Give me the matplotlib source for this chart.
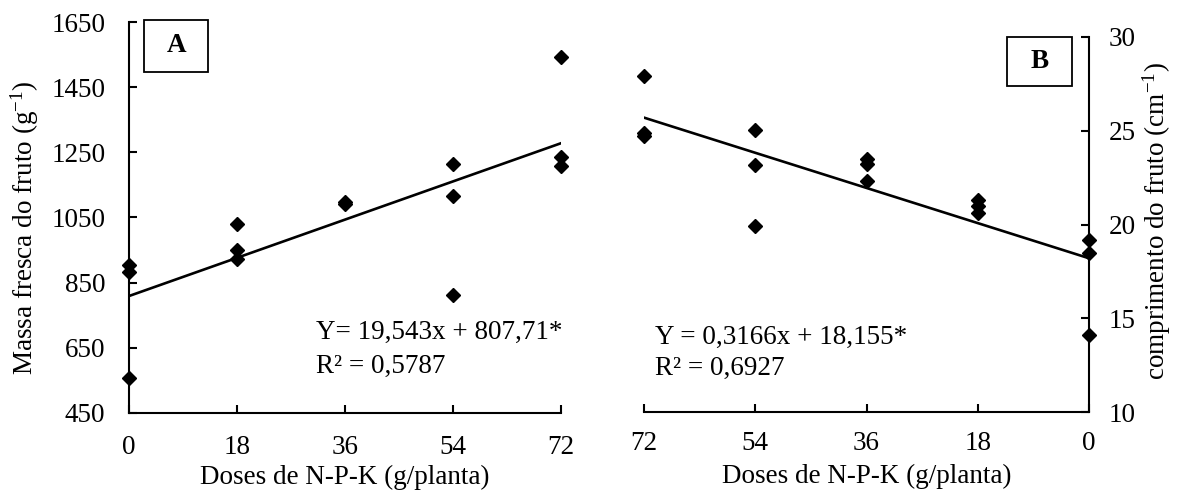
import matplotlib
matplotlib.use('Agg')
import matplotlib.pyplot as plt
from matplotlib.patches import Rectangle

plt.rcParams['font.family'] = ['Liberation Serif', 'DejaVu Serif']
plt.rcParams['mathtext.fontset'] = 'custom'
plt.rcParams['mathtext.rm'] = 'Liberation Serif'
plt.rcParams['mathtext.it'] = 'Liberation Serif:italic'

# dose levels (g/planta)
doses = [0, 18, 36, 54, 72]

# A - massa fresca do fruto
massa_x = [0, 0, 0, 18, 18, 18, 36, 36, 54, 54, 54, 72, 72, 72]
massa_y = [904, 884, 556, 1029, 950, 922, 1097, 1091, 1214, 1116, 811, 1542, 1235, 1208]
massa_fit = [809, 1278]   # trend line at dose 0 and 72

# B - comprimento do fruto
comp_x = [72, 72, 72, 54, 54, 54, 36, 36, 36, 18, 18, 18, 0, 0, 0]
comp_y = [27.9, 24.9, 24.7, 25.05, 23.2, 19.9, 23.5, 23.25, 22.3, 21.3, 21.0, 20.6, 19.15, 18.5, 14.1]
comp_fit = [18.2, 25.7]   # trend line at dose 0 and 72

fit_x = [0, 72]

FS = 19.5

fig = plt.figure(figsize=(11.78, 4.95), dpi=100)
ax1 = fig.add_axes([129/1178, 1-413/495, 432/1178, 391/495])
ax2 = fig.add_axes([644/1178, 1-412/495, 445/1178, 375/495])

# ----- panel A
ax1.plot(fit_x, massa_fit, color='black', lw=1.9)
ax1.plot(massa_x, massa_y, 'D', color='black', ms=6.8, clip_on=False, zorder=3)
ax1.set_xlim(0, 72)
ax1.set_ylim(450, 1650)
ax1.set_xticks(doses)
ax1.set_yticks([450, 650, 850, 1050, 1250, 1450, 1650])
ax1.spines['top'].set_visible(False)
ax1.spines['right'].set_visible(False)
ax1.tick_params(axis='x', direction='in', length=6, width=1.5, labelsize=FS, pad=16)
ax1.tick_params(axis='y', direction='in', length=6, width=1.5, labelsize=FS, pad=17)
ax1.set_xlabel('Doses de N-P-K (g/planta)', fontsize=FS)
ax1.xaxis.set_label_coords(0.5, -0.164)
ax1.xaxis.label.set_va('center')
ax1.set_ylabel('Massa fresca do fruto (g$^{\\mathrm{-1}}$)', fontsize=FS)
ax1.yaxis.set_label_coords(-0.241, 0.473)
ax1.yaxis.label.set_va('center')
ax1.text(0.433, 0.207, 'Y= 19,543x + 807,71*', transform=ax1.transAxes,
         fontsize=FS, ha='left', va='center')
ax1.text(0.433, 0.118, 'R\u00b2 = 0,5787', transform=ax1.transAxes,
         fontsize=FS, ha='left', va='center')
ax1.add_patch(Rectangle((0.035, 0.872), 0.148, 0.133, transform=ax1.transAxes,
                        fill=False, ec='black', lw=1.3, clip_on=False))
ax1.text(0.109, 0.94, 'A', transform=ax1.transAxes, fontsize=FS,
         fontweight='bold', ha='center', va='center')

# ----- panel B
ax2.plot(fit_x, comp_fit, color='black', lw=1.9)
ax2.plot(comp_x, comp_y, 'D', color='black', ms=6.8, clip_on=False, zorder=3)
ax2.set_xlim(72, 0)
ax2.set_ylim(10, 30)
ax2.set_xticks(doses)
ax2.set_yticks([10, 15, 20, 25, 30])
ax2.yaxis.tick_right()
ax2.yaxis.set_label_position('right')
ax2.spines['top'].set_visible(False)
ax2.spines['left'].set_visible(False)
ax2.tick_params(axis='x', direction='in', length=6, width=1.5, labelsize=FS, pad=14)
ax2.tick_params(axis='y', direction='in', length=6, width=1.5, labelsize=FS, pad=14)
ax2.set_xlabel('Doses de N-P-K (g/planta)', fontsize=FS)
ax2.xaxis.set_label_coords(0.5, -0.173)
ax2.xaxis.label.set_va('center')
ax2.set_ylabel('comprimento do fruto (cm$^{\\mathrm{-1}}$)', fontsize=FS)
ax2.yaxis.set_label_coords(1.153, 0.509)
ax2.yaxis.label.set_va('center')
ax2.text(0.025, 0.2, 'Y = 0,3166x + 18,155*', transform=ax2.transAxes,
         fontsize=FS, ha='left', va='center')
ax2.text(0.025, 0.117, 'R\u00b2 = 0,6927', transform=ax2.transAxes,
         fontsize=FS, ha='left', va='center')
ax2.add_patch(Rectangle((0.816, 0.869), 0.146, 0.131, transform=ax2.transAxes,
                        fill=False, ec='black', lw=1.3, clip_on=False))
ax2.text(0.889, 0.934, 'B', transform=ax2.transAxes, fontsize=FS,
         fontweight='bold', ha='center', va='center')

for sp in ['left', 'bottom']:
    ax1.spines[sp].set_linewidth(1.5)
for sp in ['right', 'bottom']:
    ax2.spines[sp].set_linewidth(1.5)

fig.savefig('out.png', dpi=100)
